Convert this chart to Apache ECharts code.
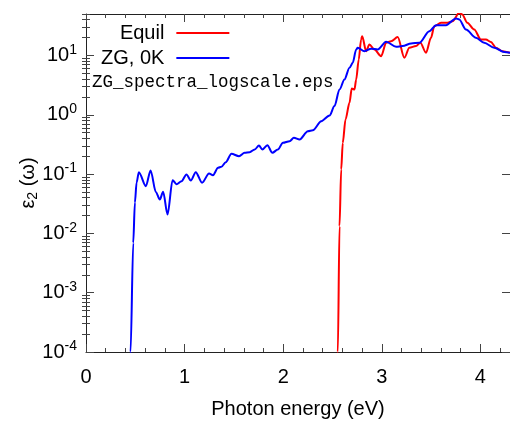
<!DOCTYPE html>
<html><head><meta charset="utf-8">
<script src="https://cdn.jsdelivr.net/npm/echarts@6/dist/echarts.min.js"></script>
<style>html,body{margin:0;padding:0;background:#fff}#c{width:510px;height:423px}</style>
</head><body><div id="c"></div>
<script>
// ---- data ----
const xMajorTicks = [0, 1, 2, 3, 4];
const xMinorTicks = [0.2,0.4,0.6,0.8,1.2,1.4,1.6,1.8,2.2,2.4,2.6,2.8,3.2,3.4,3.6,3.8,4.2];
const yMajorTicks = [1e-4, 1e-3, 1e-2, 1e-1, 1, 10];
const yMinorTicks = [];
[1e-4,1e-3,1e-2,1e-1,1,10].forEach(function(d){ for (let k=2;k<=9;k++){ if (d*k<=50) yMinorTicks.push(+(d*k).toPrecision(3)); } });

const zgEnergy = [0.449,0.452,0.479,0.496,0.513,0.536,0.607,0.655,0.709,0.749,0.782,0.827,0.878,0.918,0.969,1.019,1.063,1.113,1.177,1.248,1.288,1.339,1.373,1.417,1.475,1.552,1.609,1.660,1.711,1.754,1.788,1.839,1.890,1.946,1.997,2.065,2.108,2.166,2.250,2.301,2.386,2.470,2.520,2.571,2.621,2.672,2.705,2.740,2.756,2.824,2.892,2.958,3.044,3.145,3.211,3.297,3.381,3.482,3.550,3.651,3.752,3.785,3.853,3.954,4.038,4.140,4.241,4.30];
const zgEps2 = [3e-5,1e-4,0.0069,0.0332,0.0721,0.1076,0.0625,0.115,0.0495,0.0373,0.0504,0.0208,0.0789,0.0676,0.0759,0.0984,0.078,0.1076,0.0713,0.1023,0.0957,0.1276,0.1327,0.1589,0.2198,0.2004,0.2285,0.234,0.260,0.303,0.260,0.307,0.2285,0.260,0.337,0.359,0.409,0.383,0.528,0.549,0.780,0.973,1.40,2.67,3.94,6.2,7.5,12.6,13.5,11.8,13.0,12.6,17.0,14.0,14.4,15.9,16.4,25.7,32.4,32.4,42.1,40.4,27.4,19.9,16.4,13.5,11.4,11.1];

const equilEnergy = [2.550,2.554,2.571,2.588,2.604,2.632,2.672,2.695,2.723,2.740,2.766,2.790,2.801,2.841,2.874,2.925,2.993,3.044,3.094,3.161,3.229,3.279,3.347,3.391,3.448,3.499,3.532,3.600,3.667,3.718,3.785,3.816,3.867,3.937,4.005,4.056,4.106,4.157,4.224,4.30];
const equilEps2 = [3e-5,1e-4,0.0132,0.1197,0.337,0.834,1.59,2.77,2.67,3.94,8.57,18.6,21.1,11.8,15.3,12.6,9.73,16.4,17.4,20.4,9.15,13.5,14.4,16.4,11.1,19.9,31.2,35.6,35.6,37.9,52.5,49.1,35.6,27.4,18.6,18.6,16.9,13.5,11.8,11.1];

const seriesNames = ['Equil', 'ZG, 0K'];
const fileLabel = 'ZG_spectra_logscale.eps';

function pairs(xs, ys){ return xs.map(function(x,i){ return [x, ys[i]]; }); }

const FONT = 'Liberation Sans';
const chart = echarts.init(document.getElementById('c'), null, {renderer:'canvas'});

function yLabel(v){
  const l = Math.log10(v), e = Math.round(l);
  if (Math.abs(l - e) > 1e-6) return '';
  return '{b|10}{s|' + e + '}';
}
const lineStyle = {color:'#222', width:1};
const tickStyle = {color:'#444', width:1};
const xBase = {type:'value', min:0, max:4.3, splitLine:{show:false}, axisLine:{show:true, onZero:false, lineStyle:lineStyle}};
const yBase = {type:'log', logBase:10, min:1e-4, max:50, splitLine:{show:false}, axisLine:{show:true, onZero:false, lineStyle:lineStyle}};

chart.setOption({
  animation:false,
  backgroundColor:'#fff',
  grid:{left:86, top:14, right:0, bottom:71, containLabel:false, outerBoundsMode:'none'},
  legend:{
    orient:'vertical', align:'right', left:96, top:18, itemGap:5,
    itemWidth:53, itemHeight:2, icon:'rect',
    textStyle:{fontFamily:FONT, fontSize:20, color:'#000', padding:[0,7,0,0]},
    data:seriesNames
  },
  xAxis:[
    Object.assign({}, xBase, {position:'bottom', name:'Photon energy (eV)', nameLocation:'middle', nameGap:47,
      nameTextStyle:{fontFamily:FONT, fontSize:20, color:'#000'},
      axisTick:{show:true, inside:true, length:8, lineStyle:tickStyle, customValues:xMajorTicks},
      axisLabel:{show:true, margin:15, fontFamily:FONT, fontSize:20, color:'#000', customValues:xMajorTicks}}),
    Object.assign({}, xBase, {position:'top',
      axisTick:{show:true, inside:true, length:8, lineStyle:tickStyle, customValues:xMajorTicks},
      axisLabel:{show:false}}),
    Object.assign({}, xBase, {position:'bottom', axisLine:{show:false},
      axisTick:{show:true, inside:true, length:4, lineStyle:tickStyle, customValues:xMinorTicks},
      axisLabel:{show:false}}),
    Object.assign({}, xBase, {position:'top', axisLine:{show:false},
      axisTick:{show:true, inside:true, length:4, lineStyle:tickStyle, customValues:xMinorTicks},
      axisLabel:{show:false}})
  ],
  yAxis:[
    Object.assign({}, yBase, {position:'left', name:'{e|ε}{sub|2}{e| (ω)}', nameLocation:'middle', nameGap:46, nameRotate:90, nameMoveOverlap:false,
      nameTextStyle:{fontFamily:FONT, fontSize:20, color:'#000', rich:{e:{fontFamily:FONT, fontSize:20, color:'#000'}, sub:{fontFamily:FONT, fontSize:14, color:'#000', padding:[9,0,0,0]}}},
      axisTick:{show:true, inside:true, length:8, lineStyle:tickStyle, customValues:yMajorTicks},
      axisLabel:{show:true, margin:9, formatter:yLabel, customValues:yMajorTicks,
        rich:{b:{fontFamily:FONT, fontSize:20, color:'#000'}, s:{fontFamily:FONT, fontSize:14, color:'#000', padding:[0,0,11,0]}}}}),
    Object.assign({}, yBase, {position:'right',
      axisTick:{show:true, inside:true, length:8, lineStyle:tickStyle, customValues:yMajorTicks},
      axisLabel:{show:false}}),
    Object.assign({}, yBase, {position:'left', axisLine:{show:false},
      axisTick:{show:true, inside:true, length:4, lineStyle:tickStyle, customValues:yMinorTicks},
      axisLabel:{show:false}}),
    Object.assign({}, yBase, {position:'right', axisLine:{show:false},
      axisTick:{show:true, inside:true, length:4, lineStyle:tickStyle, customValues:yMinorTicks},
      axisLabel:{show:false}})
  ],
  graphic:[{type:'text', left:92, top:73, silent:true,
    style:{text:fileLabel, fontFamily:'Liberation Mono', fontSize:17.5, fill:'#000'}}],
  series:[
    {name:seriesNames[0], type:'line', data:pairs(equilEnergy, equilEps2), showSymbol:false, symbol:'none',
     smooth:0.3, smoothMonotone:'x', clip:true, color:'#ff0000', lineStyle:{color:'#ff0000', width:2}, z:3},
    {name:seriesNames[1], type:'line', data:pairs(zgEnergy, zgEps2), showSymbol:false, symbol:'none',
     smooth:0.3, smoothMonotone:'x', clip:true, color:'#0000ff', lineStyle:{color:'#0000ff', width:2}, z:4}
  ]
});
</script></body></html>
